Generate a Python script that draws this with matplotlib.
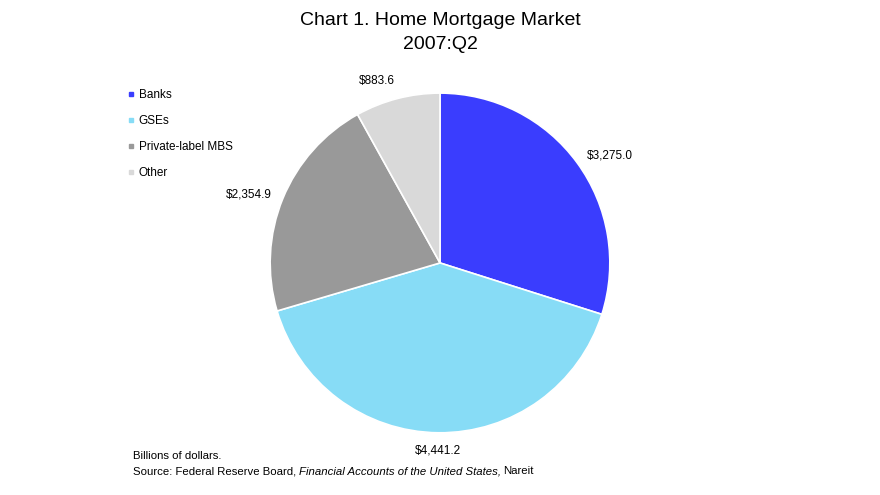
import matplotlib.pyplot as plt
from matplotlib.lines import Line2D
import numpy as np

plt.rcParams['font.family'] = ['Liberation Sans', 'DejaVu Sans']

categories = ['Banks', 'GSEs', 'Private-label MBS', 'Other']
values = [3275.0, 4441.2, 2354.9, 883.6]
labels = ['$3,275.0', '$4,441.2', '$2,354.9', '$883.6']
colors = ['#3a3dfe', '#87dcf6', '#999999', '#d9d9d9']

fig = plt.figure(figsize=(8.8, 4.95), dpi=100)
ax = fig.add_axes([0.5 - 0.193, 0.4687 - 0.3434, 0.386, 0.687])

wedges, _ = ax.pie(values, colors=colors, startangle=90, counterclock=False,
                   wedgeprops=dict(edgecolor='white', linewidth=1.2))
ax.set_aspect('equal')
ax.set_xlim(-1, 1)
ax.set_ylim(-1, 1)

# data labels just outside each slice
for w, lab in zip(wedges, labels):
    ang = np.deg2rad((w.theta1 + w.theta2) / 2)
    x, y = np.cos(ang), np.sin(ang)
    if abs(x) < 0.15:
        ha = 'center'
    else:
        ha = 'left' if x > 0 else 'right'
    if abs(y) > 0.7:
        va = 'bottom' if y > 0 else 'top'
    else:
        va = 'center'
    ax.text(1.07 * x, 1.07 * y, lab, ha=ha, va=va, fontsize=8.5)

fig.text(0.5, 0.975, 'Chart 1. Home Mortgage Market\n2007:Q2', ha='center', va='top',
         fontsize=14, linespacing=1.5)

handles = [Line2D([], [], marker='s', linestyle='none', markersize=3.5,
                  markerfacecolor=c, markeredgecolor=c) for c in colors]
fig.legend(handles, categories, loc='upper left', bbox_to_anchor=(0.14, 0.83),
           frameon=False, fontsize=8.5, handlelength=0.5, handletextpad=0.4,
           labelspacing=1.2, borderaxespad=0)

# footer, with the report title in italics
fig.text(0.151, 0.073, 'Billions of dollars.', fontsize=8.2, va='baseline')
parts = [('Source: Federal Reserve Board,', 'normal'),
         ('Financial Accounts of the United States,', 'italic'),
         ('Nareit', 'normal')]
renderer = fig.canvas.get_renderer()
gap = 2.5 / fig.bbox.width
x0 = 0.151
for txt, style in parts:
    t = fig.text(x0, 0.042, txt, fontsize=8.2, style=style, va='baseline')
    bb = t.get_window_extent(renderer=renderer)
    x0 += bb.width / fig.bbox.width + gap

fig.savefig('out.png', dpi=100)
